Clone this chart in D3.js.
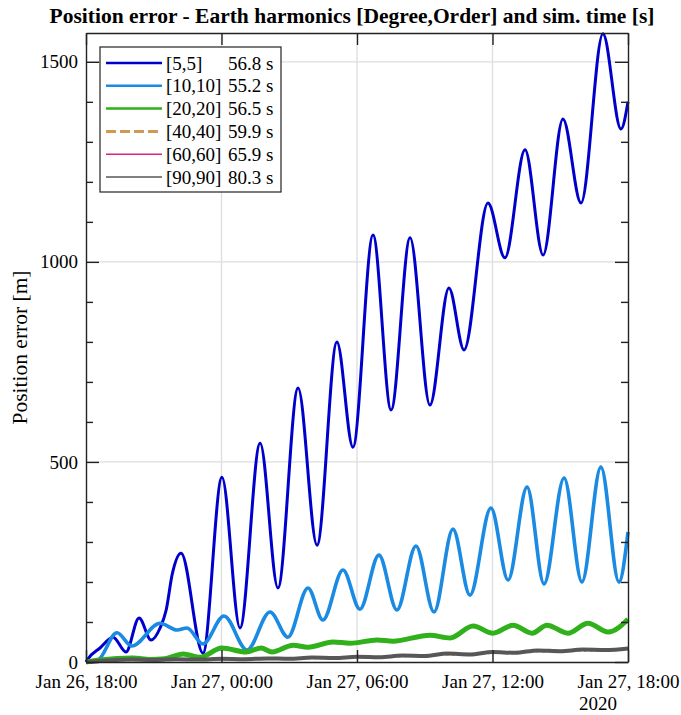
<!DOCTYPE html>
<html>
<head>
<meta charset="utf-8">
<script src="https://cdn.jsdelivr.net/npm/d3@7"></script>
<style>
  body { margin: 0; background: #fff; }
  svg text { font-family: "Liberation Serif", "Times New Roman", serif; fill: #000; }
</style>
</head>
<body>
<div id="chart"></div>
<script>
// Daten: Stunden seit Jan 26, 18:00 (UTC) und Positionsfehler in m
const startTime = Date.UTC(2020, 0, 26, 18);

const h5 = [0, 0.09, 0.62, 1.20, 1.77, 2.35, 2.88, 3.28, 3.55, 3.82, 4.21, 5.18, 6.02, 6.82, 7.71, 8.50, 9.39, 10.23, 11.11, 11.82, 12.71, 13.51, 14.35, 15.23, 16.07, 16.74, 17.80, 18.55, 19.44, 20.24, 21.12, 21.92, 22.89, 23.69, 24.0];
const v5 = [0, 8, 35, 62, 25, 110, 55, 85, 130, 220, 272, 22, 462, 85, 547, 185, 685, 292, 800, 537, 1067, 630, 1060, 642, 935, 780, 1147, 1010, 1280, 1017, 1357, 1147, 1570, 1332, 1400];

const h10 = [0, 0.53, 1.37, 2.03, 3.28, 4.03, 4.47, 5.18, 6.11, 7.13, 8.15, 8.94, 9.83, 10.49, 11.38, 12.13, 12.97, 13.77, 14.61, 15.41, 16.25, 17.00, 17.93, 18.69, 19.53, 20.28, 21.17, 21.96, 22.80, 23.60, 24.0];
const v10 = [0, 5, 73, 40, 97, 80, 85, 45, 115, 30, 125, 62, 185, 105, 230, 132, 267, 130, 290, 125, 332, 167, 385, 205, 437, 195, 460, 200, 487, 200, 325];

const h20 = [0, 0.62, 2.08, 2.83, 3.50, 4.30, 5.05, 6.02, 7.09, 7.75, 8.24, 9.17, 9.83, 10.94, 11.69, 12.89, 13.59, 15.23, 16.12, 17.14, 18.02, 18.91, 19.75, 20.41, 21.34, 22.23, 23.12, 24.0];
const v20 = [0, 5, 10, 6, 8, 20, 12, 35, 25, 35, 25, 42, 37, 50, 47, 55, 52, 67, 60, 90, 72, 92, 72, 92, 72, 97, 75, 107];

const hLow = [0, 1, 2, 3, 4, 5, 6, 7, 8, 9, 10, 11, 12, 13, 14, 15, 16, 17, 18, 19, 20, 21, 22, 23, 24];
const v40 = [0, 3, 5, 5, 6, 6, 7, 7, 8, 8, 10, 10, 12, 12, 15, 16, 19, 19, 23, 23, 27, 26, 29, 29, 33];
const v60 = [0, 4, 6, 6, 7, 6, 8, 8, 10, 9, 11, 11, 13, 13, 16, 16, 21, 20, 25, 24, 29, 28, 31, 31, 35];
const v90 = [0, 4, 6, 5, 7, 6, 8, 7, 9, 8, 11, 10, 13, 12, 16, 15, 21, 19, 25, 23, 29, 27, 31, 30, 34];

const seriesNames = ["[5,5]", "[10,10]", "[20,20]", "[40,40]", "[60,60]", "[90,90]"];
const simTimes = ["56.8 s", "55.2 s", "56.5 s", "59.9 s", "65.9 s", "80.3 s"];
const seriesColors = ["#0000cc", "#1a8ae2", "#30b01a", "#d09a55", "#e0207f", "#575757"];

const yTicks = [0, 500, 1000, 1500];
const yMinorTicks = [100, 200, 300, 400, 600, 700, 800, 900, 1100, 1200, 1300, 1400];
const xTickHours = [0, 6, 12, 18, 24];

const W = 681, H = 715;
const m = { left: 86, right: 53, top: 33, bottom: 53 };

const svg = d3.select("#chart").append("svg").attr("width", W).attr("height", H);

const x = d3.scaleUtc()
    .domain([new Date(startTime), new Date(startTime + 24 * 3600e3)])
    .range([m.left, W - m.right]);
const y = d3.scaleLinear().domain([0, 1572]).range([H - m.bottom, m.top]);
const hourToDate = hh => new Date(startTime + hh * 3600e3);
const xTicks = xTickHours.map(hourToDate);

// Gitter
svg.append("g").selectAll("line").data(xTicks.slice(1, -1)).join("line")
    .attr("x1", d => x(d)).attr("x2", d => x(d))
    .attr("y1", m.top).attr("y2", H - m.bottom)
    .attr("stroke", "#dedede").attr("stroke-width", 1.3);
svg.append("g").selectAll("line").data(yTicks.slice(1)).join("line")
    .attr("x1", m.left).attr("x2", W - m.right)
    .attr("y1", d => y(d)).attr("y2", d => y(d))
    .attr("stroke", "#dedede").attr("stroke-width", 1.3);

// Linien
const series = [
    { h: h5, v: v5, w: 3 },
    { h: h10, v: v10, w: 3.6 },
    { h: h20, v: v20, w: 5 },
    { h: hLow, v: v40, w: 2.5, dash: "3,3" },
    { h: hLow, v: v60, w: 1.5 },
    { h: hLow, v: v90, w: 4 }
];
const line = d3.line().curve(d3.curveMonotoneX);
const plot = svg.append("g");
series.forEach((s, i) => {
    const pts = s.h.map((hh, j) => [x(hourToDate(hh)), y(s.v[j])]);
    plot.append("path").attr("d", line(pts))
        .attr("fill", "none").attr("stroke", seriesColors[i])
        .attr("stroke-width", s.w).attr("stroke-linejoin", "round")
        .attr("stroke-dasharray", s.dash || null);
});

// Achsen (Ticks nach innen, wie MATLAB)
const fmt = d3.utcFormat("%b %d, %H:%M");
const axes = svg.append("g");
const styleAxis = g => {
    g.select(".domain").attr("stroke", "#222").attr("stroke-width", 1.4);
    g.selectAll(".tick line").attr("stroke", "#222").attr("stroke-width", 1.4);
    g.selectAll("text").attr("font-family", "Liberation Serif").attr("font-size", 19).attr("fill", "#000");
};
axes.append("g").attr("transform", `translate(0,${H - m.bottom})`)
    .call(d3.axisBottom(x).tickValues(xTicks).tickFormat(fmt).tickSizeInner(-12).tickSizeOuter(0).tickPadding(13))
    .call(styleAxis);
axes.append("g").attr("transform", `translate(0,${m.top})`)
    .call(d3.axisTop(x).tickValues(xTicks).tickFormat("").tickSizeInner(-12).tickSizeOuter(0))
    .call(styleAxis);
axes.append("g").attr("transform", `translate(${m.left},0)`)
    .call(d3.axisLeft(y).tickValues(yTicks).tickFormat(d3.format("d")).tickSizeInner(-13).tickSizeOuter(0).tickPadding(8))
    .call(styleAxis);
axes.append("g").attr("transform", `translate(${W - m.right},0)`)
    .call(d3.axisRight(y).tickValues(yTicks).tickFormat("").tickSizeInner(-13).tickSizeOuter(0))
    .call(styleAxis);
axes.append("g").attr("transform", `translate(${m.left},0)`)
    .call(d3.axisLeft(y).tickValues(yMinorTicks).tickFormat("").tickSizeInner(-7).tickSizeOuter(0))
    .call(styleAxis).select(".domain").remove();
axes.append("g").attr("transform", `translate(${W - m.right},0)`)
    .call(d3.axisRight(y).tickValues(yMinorTicks).tickFormat("").tickSizeInner(-7).tickSizeOuter(0))
    .call(styleAxis).select(".domain").remove();

svg.append("text").attr("x", x(xTicks[4]) - 30).attr("y", 710)
    .attr("text-anchor", "middle").attr("font-size", 19).text("2020");

// Titel und Achsenbeschriftung
svg.append("text").attr("x", 352).attr("y", 23).attr("text-anchor", "middle")
    .attr("font-size", 21.5).attr("font-weight", "bold").text("Position error - Earth harmonics [Degree,Order] and sim. time [s]");
svg.append("text").attr("transform", `translate(27,${(m.top + H - m.bottom) / 2}) rotate(-90)`)
    .attr("text-anchor", "middle").attr("font-size", 21.5).text("Position error [m]");

// Legende
const leg = svg.append("g").attr("transform", "translate(100,47)");
leg.append("rect").attr("width", 181).attr("height", 145)
    .attr("fill", "#fff").attr("stroke", "#222").attr("stroke-width", 1.2);
const legW = [2.5, 2.5, 2.5, 3, 1.5, 1.5];
seriesNames.forEach((name, i) => {
    const cy = 16 + i * 22.8;
    leg.append("line").attr("x1", 6).attr("x2", 62).attr("y1", cy).attr("y2", cy)
        .attr("stroke", seriesColors[i]).attr("stroke-width", legW[i])
        .attr("stroke-dasharray", i === 3 ? "10,4" : null);
    leg.append("text").attr("x", 66).attr("y", cy + 6.5).attr("font-size", 19).text(name);
    leg.append("text").attr("x", 128).attr("y", cy + 6.5).attr("font-size", 19).text(simTimes[i]);
});
</script>
</body>
</html>
